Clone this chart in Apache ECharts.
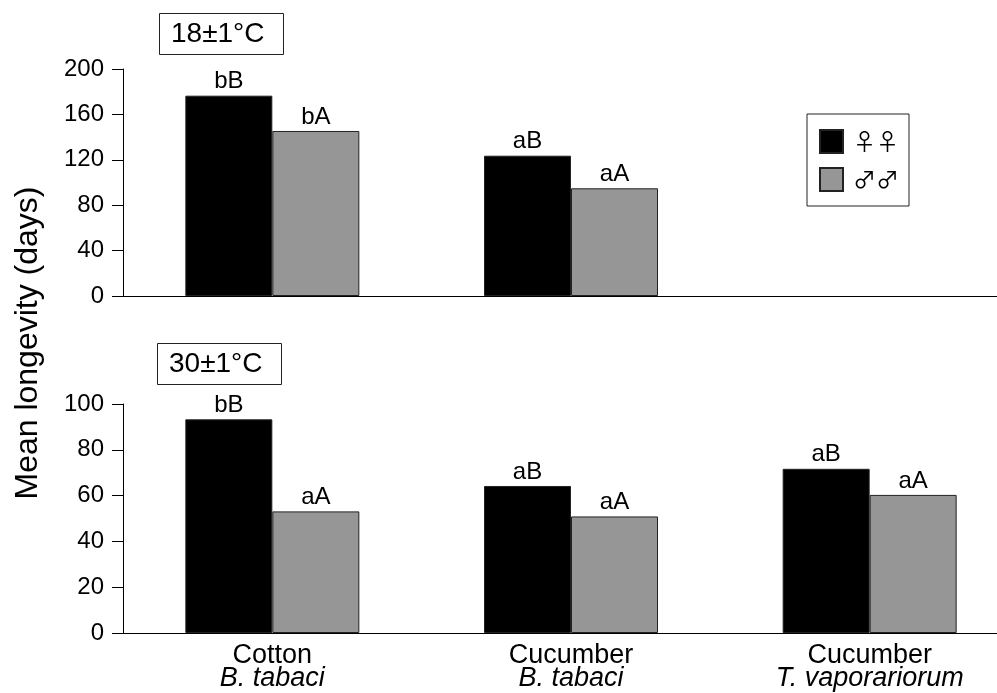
<!DOCTYPE html>
<html>
<head>
<meta charset="utf-8">
<script src="https://cdn.jsdelivr.net/npm/echarts@6/dist/echarts.min.js"></script>
<style>html,body{margin:0;padding:0;background:#fff;overflow:hidden}#c{width:1019px;height:693px}</style>
</head>
<body>
<div id="c"></div>
<script>
const categories = ['Cotton|B. tabaci', 'Cucumber|B. tabaci', 'Cucumber|T. vaporariorum'];
const femaleTop = [176.5, 123.6, null];
const maleTop = [145.4, 94.9, null];
const femaleTopLabels = ['bB', 'aB', ''];
const maleTopLabels = ['bA', 'aA', ''];
const femaleBottom = [93.3, 64.2, 71.7];
const maleBottom = [53.1, 50.9, 60.3];
const femaleBottomLabels = ['bB', 'aB', 'aB'];
const maleBottomLabels = ['aA', 'aA', 'aA'];
const topTicks = {min: 0, max: 200, interval: 40};
const bottomTicks = {min: 0, max: 100, interval: 20};

const FONT = 'Liberation Sans, Arial, sans-serif';
const chart = echarts.init(document.getElementById('c'));

function mkData(vals, labels) {
  return vals.map((v, i) => ({value: v, label: {formatter: labels[i]}}));
}
function barSeries(name, vals, labels, idx, color) {
  return {
    name: name, type: 'bar', xAxisIndex: idx, yAxisIndex: idx,
    data: mkData(vals, labels),
    barWidth: 87, barGap: '0%',
    itemStyle: {color: color, borderColor: '#222', borderWidth: 1},
    label: {show: true, position: 'top', distance: 2, color: '#000', fontSize: 24, fontFamily: FONT},
    animation: false
  };
}
const yAxisCommon = {
  type: 'value',
  axisLine: {show: true, lineStyle: {color: '#000', width: 1}},
  axisTick: {show: true, length: 11, lineStyle: {color: '#000'}},
  axisLabel: {color: '#000', fontSize: 24, fontFamily: FONT, margin: 19},
  splitLine: {show: false}
};
const titleText = {fontSize: 28, fontWeight: 'normal', color: '#000', fontFamily: FONT};

chart.setOption({
  backgroundColor: '#fff',
  animation: false,
  title: [
    {text: '18±1°C', left: 159, top: 13, borderColor: '#222', borderWidth: 1, padding: [7, 19, 7, 12], textStyle: titleText},
    {text: '30±1°C', left: 157, top: 343, borderColor: '#222', borderWidth: 1, padding: [7, 19, 7, 12], textStyle: titleText}
  ],
  legend: {
    left: 807, top: 114, orient: 'vertical',
    data: ['♀♀', '♂♂'],
    icon: 'rect', itemWidth: 23, itemHeight: 23, itemGap: 13,
    padding: [15, 10, 14, 12],
    borderColor: '#222', borderWidth: 1,
    textStyle: {fontSize: 23, color: '#000', fontFamily: 'Noto Sans CJK JP', padding: [0, 0, 0, 5]},
    selectedMode: false
  },
  grid: [
    {left: 123, right: 0, top: 69, height: 227},
    {left: 123, right: 0, top: 404, height: 229}
  ],
  xAxis: [
    {type: 'category', gridIndex: 0, data: categories,
     axisLine: {lineStyle: {color: '#000'}}, axisTick: {show: false}, axisLabel: {show: false}},
    {type: 'category', gridIndex: 1, data: categories,
     axisLine: {lineStyle: {color: '#000'}}, axisTick: {show: false},
     axisLabel: {
       color: '#000', margin: 12, lineHeight: 22,
       formatter: v => { const p = v.split('|'); return '{a|' + p[0] + '}\n{b|' + p[1] + '}'; },
       rich: {
         a: {fontSize: 27, fontFamily: FONT, color: '#000', lineHeight: 22},
         b: {fontSize: 27, fontFamily: FONT, fontStyle: 'italic', color: '#000', lineHeight: 22}
       }
     }}
  ],
  yAxis: [
    Object.assign({gridIndex: 0}, yAxisCommon, topTicks),
    Object.assign({gridIndex: 1}, yAxisCommon, bottomTicks)
  ],
  series: [
    barSeries('♀♀', femaleTop, femaleTopLabels, 0, '#000000'),
    barSeries('♂♂', maleTop, maleTopLabels, 0, '#969696'),
    barSeries('♀♀', femaleBottom, femaleBottomLabels, 1, '#000000'),
    barSeries('♂♂', maleBottom, maleBottomLabels, 1, '#969696')
  ],
  graphic: [
    {type: 'text', x: 28, y: 343, rotation: Math.PI / 2, originX: 0, originY: 0,
     style: {text: 'Mean longevity (days)', fontSize: 32, fontFamily: FONT, fill: '#000',
             align: 'center', verticalAlign: 'middle'}}
  ]
});
</script>
</body>
</html>
